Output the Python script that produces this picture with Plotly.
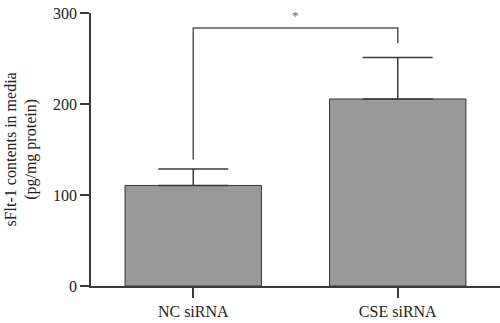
import plotly.graph_objects as go

categories = ["NC siRNA", "CSE siRNA"]
means = [110.5, 205.5]
errors_up = [18.0, 45.5]
y_ticks = [0, 100, 200, 300]
bracket_y = 283.5
bracket_left_bottom = 139
bracket_right_bottom = 267
sig_label = "*"

FONT = "Liberation Serif"
LINE = "#3a3a3a"

fig = go.Figure()
fig.add_trace(go.Bar(
    x=categories, y=means,
    marker=dict(color="#999999", line=dict(color="#333333", width=1)),
    width=0.667,
    error_y=dict(type="data", symmetric=False, array=errors_up,
                 arrayminus=[0, 0], color=LINE, thickness=1.5, width=35),
))

# significance bracket
fig.add_shape(type="path", xref="x", yref="y",
              path=f"M 0 {bracket_left_bottom} L 0 {bracket_y} L 1 {bracket_y} L 1 {bracket_right_bottom}",
              line=dict(color="#555555", width=1.5))
fig.add_annotation(x=0.5, xref="x", y=297, yref="y", text=sig_label, showarrow=False,
                   font=dict(family=FONT, size=13, color="#666666"), yanchor="middle")

fig.add_annotation(x=(21 - 91) / 409, xref="paper", y=0.5, yref="paper",
                   text="sFlt-1 contents in media<br>(pg/mg protein)", showarrow=False,
                   textangle=-90, xanchor="center", yanchor="middle",
                   font=dict(family=FONT, size=16, color="#222222"))

fig.update_layout(
    width=500, height=323,
    margin=dict(l=91, r=0, t=13, b=37),
    plot_bgcolor="white", paper_bgcolor="white",
    showlegend=False,
    font=dict(family=FONT, size=16, color="#222222"),
    xaxis=dict(range=[-0.5, 1.5], showline=True, linecolor=LINE, linewidth=1.5,
               ticks="outside", ticklen=10, tickcolor=LINE, tickwidth=1.5,
               showgrid=False, zeroline=False),
    yaxis=dict(range=[0, 300], tickvals=y_ticks, showline=True, linecolor=LINE, linewidth=1.5,
               ticks="outside", ticklen=9, tickcolor=LINE, tickwidth=1.5,
               showgrid=False, zeroline=False),
)

fig.write_html("out.html")
